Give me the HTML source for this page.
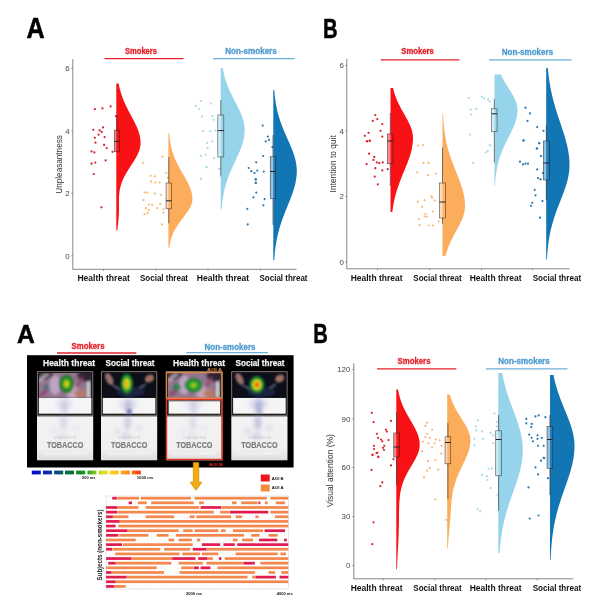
<!DOCTYPE html>
<html lang="en"><head><meta charset="utf-8"><title>Figure</title>
<style>html,body{margin:0;padding:0;background:#fff}svg{display:block;filter:blur(0.45px)}</style></head>
<body>
<svg width="602" height="614" viewBox="0 0 602 614" font-family='"Liberation Sans", sans-serif'>
<rect width="602" height="614" fill="#fff"/>
<g id="tl">
<text x="35.70" y="38.00" font-size="29" fill="#000" text-anchor="middle" font-weight="bold" textLength="18.20" lengthAdjust="spacingAndGlyphs" stroke="#000" stroke-width="0.5">A</text>
<line x1="72.8" y1="59" x2="72.8" y2="269.3" stroke="#555" stroke-width="0.7"/>
<line x1="72.8" y1="269.3" x2="296.5" y2="269.3" stroke="#555" stroke-width="0.7"/>
<line x1="71.3" y1="68.6" x2="72.8" y2="68.6" stroke="#555" stroke-width="0.6"/>
<text x="69.60" y="71.40" font-size="7.9" fill="#454545" text-anchor="end">6</text>
<line x1="71.3" y1="131" x2="72.8" y2="131" stroke="#555" stroke-width="0.6"/>
<text x="69.60" y="133.80" font-size="7.9" fill="#454545" text-anchor="end">4</text>
<line x1="71.3" y1="193.3" x2="72.8" y2="193.3" stroke="#555" stroke-width="0.6"/>
<text x="69.60" y="196.10" font-size="7.9" fill="#454545" text-anchor="end">2</text>
<line x1="71.3" y1="255.7" x2="72.8" y2="255.7" stroke="#555" stroke-width="0.6"/>
<text x="69.60" y="258.50" font-size="7.9" fill="#454545" text-anchor="end">0</text>
<line x1="103.5" y1="269.3" x2="103.5" y2="270.8" stroke="#555" stroke-width="0.6"/>
<line x1="155.8" y1="269.3" x2="155.8" y2="270.8" stroke="#555" stroke-width="0.6"/>
<line x1="208" y1="269.3" x2="208" y2="270.8" stroke="#555" stroke-width="0.6"/>
<line x1="260.5" y1="269.3" x2="260.5" y2="270.8" stroke="#555" stroke-width="0.6"/>
<text x="62.30" y="164.40" font-size="8.3" fill="#333" text-anchor="middle" textLength="58.50" lengthAdjust="spacingAndGlyphs" transform="rotate(-90 62.30 164.40)">Unpleasantness</text>
<text x="141.00" y="54.00" font-size="8.4" fill="#e5222b" text-anchor="middle" font-weight="bold" textLength="32.00" lengthAdjust="spacingAndGlyphs" stroke="#e5222b" stroke-width="0.3">Smokers</text>
<line x1="104.5" y1="58.6" x2="183.5" y2="58.6" stroke="#e5222b" stroke-width="1.35"/>
<text x="251.00" y="54.00" font-size="8.4" fill="#4f9bd0" text-anchor="middle" font-weight="bold" textLength="51.50" lengthAdjust="spacingAndGlyphs" stroke="#4f9bd0" stroke-width="0.3">Non-smokers</text>
<line x1="213" y1="58.6" x2="294.5" y2="58.6" stroke="#6cb0da" stroke-width="1.35"/>
<path d="M116.30,83.50L118.64,83.50L119.13,85.95L119.69,88.40L120.32,90.85L121.05,93.30L121.85,95.75L122.75,98.20L123.72,100.65L124.78,103.10L125.91,105.55L127.11,108.00L128.36,110.45L129.65,112.90L130.96,115.35L132.27,117.80L133.56,120.25L134.80,122.70L135.98,125.15L137.07,127.60L138.05,130.05L138.89,132.50L139.58,134.95L140.10,137.40L140.44,139.85L140.59,142.30L140.53,144.75L140.18,147.20L139.56,149.65L138.69,152.10L137.60,154.55L136.32,157.00L134.90,159.45L133.38,161.90L131.80,164.35L130.20,166.80L128.63,169.25L127.11,171.70L125.68,174.15L124.37,176.60L123.18,179.05L122.14,181.50L121.26,183.95L120.53,186.40L119.96,188.85L119.53,191.30L119.24,193.75L119.05,196.20L118.96,198.65L118.94,201.10L118.95,203.55L118.97,206.00L118.98,208.45L118.95,210.90L118.87,213.35L118.74,215.80L118.56,218.25L118.34,220.70L118.09,223.15L117.83,225.60L117.56,228.05L117.32,230.50L116.30,230.50Z" fill="#f81216"/>
<path d="M168.40,133.00L169.14,133.00L169.30,134.91L169.49,136.83L169.71,138.74L169.98,140.65L170.28,142.57L170.63,144.48L171.02,146.39L171.47,148.31L171.98,150.22L172.54,152.13L173.17,154.05L173.85,155.96L174.60,157.87L175.41,159.79L176.29,161.70L177.21,163.61L178.19,165.53L179.22,167.44L180.28,169.35L181.37,171.27L182.48,173.18L183.59,175.09L184.70,177.01L185.78,178.92L186.83,180.83L187.83,182.75L188.76,184.66L189.61,186.57L190.37,188.49L191.02,190.40L191.56,192.31L191.97,194.23L192.24,196.14L192.38,198.05L192.37,199.97L192.13,201.88L191.65,203.79L190.95,205.71L190.05,207.62L188.98,209.53L187.77,211.45L186.44,213.36L185.03,215.27L183.58,217.19L182.11,219.10L180.67,221.01L179.26,222.93L177.92,224.84L176.66,226.75L175.49,228.67L174.43,230.58L173.47,232.49L172.63,234.41L171.89,236.32L171.25,238.23L170.70,240.15L170.24,242.06L169.86,243.97L169.54,245.89L169.29,247.80L168.40,247.80Z" fill="#fcad5c"/>
<path d="M220.70,68.00L222.77,68.00L223.18,70.35L223.66,72.70L224.20,75.05L224.81,77.40L225.50,79.75L226.26,82.10L227.09,84.45L228.00,86.80L228.98,89.15L230.03,91.50L231.13,93.85L232.28,96.20L233.47,98.55L234.69,100.90L235.91,103.25L237.12,105.60L238.30,107.95L239.44,110.30L240.51,112.65L241.49,115.00L242.37,117.35L243.13,119.70L243.75,122.05L244.22,124.40L244.54,126.75L244.69,129.10L244.67,131.45L244.52,133.80L244.23,136.15L243.81,138.50L243.27,140.85L242.62,143.20L241.86,145.55L241.01,147.90L240.09,150.25L239.10,152.60L238.06,154.95L236.99,157.30L235.89,159.65L234.79,162.00L233.69,164.35L232.61,166.70L231.56,169.05L230.54,171.40L229.57,173.75L228.64,176.10L227.78,178.45L226.97,180.80L226.22,183.15L225.53,185.50L224.91,187.85L224.34,190.20L223.83,192.55L223.38,194.90L222.98,197.25L222.63,199.60L222.32,201.95L222.06,204.30L221.83,206.65L221.63,209.00L220.70,209.00Z" fill="#95d4ea"/>
<path d="M273.30,90.00L274.25,90.00L274.49,92.83L274.77,95.67L275.10,98.50L275.50,101.33L275.95,104.17L276.48,107.00L277.08,109.83L277.76,112.67L278.52,115.50L279.37,118.33L280.29,121.17L281.29,124.00L282.37,126.83L283.50,129.67L284.70,132.50L285.93,135.33L287.18,138.17L288.44,141.00L289.69,143.83L290.90,146.67L292.05,149.50L293.12,152.33L294.09,155.17L294.94,158.00L295.64,160.83L296.19,163.67L296.57,166.50L296.77,169.33L296.79,172.17L296.65,175.00L296.36,177.83L295.92,180.67L295.35,183.50L294.65,186.33L293.84,189.17L292.93,192.00L291.94,194.83L290.88,197.67L289.77,200.50L288.64,203.33L287.49,206.17L286.33,209.00L285.20,211.83L284.09,214.67L283.02,217.50L282.00,220.33L281.04,223.17L280.14,226.00L279.30,228.83L278.53,231.67L277.83,234.50L277.20,237.33L276.63,240.17L276.13,243.00L275.69,245.83L275.30,248.67L274.97,251.50L274.68,254.33L274.43,257.17L274.23,260.00L273.30,260.00Z" fill="#1275b4"/>
<g fill="#d8232a"><circle cx="94.8" cy="109.2" r="1.1"/><circle cx="102.4" cy="108.4" r="1.1"/><circle cx="110.6" cy="106.4" r="1.1"/><circle cx="116.0" cy="116.2" r="1.1"/><circle cx="93.3" cy="129.8" r="1.1"/><circle cx="99.6" cy="130.4" r="1.1"/><circle cx="103.0" cy="127.4" r="1.1"/><circle cx="101.7" cy="131.9" r="1.1"/><circle cx="98.5" cy="134.7" r="1.1"/><circle cx="104.6" cy="137.1" r="1.1"/><circle cx="94.8" cy="137.8" r="1.1"/><circle cx="95.5" cy="142.7" r="1.1"/><circle cx="104.1" cy="144.9" r="1.1"/><circle cx="106.7" cy="148.1" r="1.1"/><circle cx="91.6" cy="151.4" r="1.1"/><circle cx="94.4" cy="152.4" r="1.1"/><circle cx="112.5" cy="151.8" r="1.1"/><circle cx="105.6" cy="160.4" r="1.1"/><circle cx="91.6" cy="163.7" r="1.1"/><circle cx="95.3" cy="162.6" r="1.1"/><circle cx="93.8" cy="174.0" r="1.1"/></g>
<g fill="#d8232a"><circle cx="101.4" cy="207.3" r="1.1"/></g>
<g fill="#fbb873"><circle cx="162.4" cy="156.6" r="1.1"/><circle cx="143.0" cy="162.8" r="1.1"/><circle cx="166.3" cy="173.2" r="1.1"/><circle cx="150.5" cy="175.8" r="1.1"/><circle cx="154.8" cy="176.4" r="1.1"/><circle cx="151.0" cy="181.4" r="1.1"/><circle cx="155.3" cy="182.5" r="1.1"/><circle cx="159.6" cy="182.5" r="1.1"/><circle cx="167.8" cy="177.9" r="1.1"/><circle cx="144.7" cy="192.6" r="1.1"/><circle cx="147.3" cy="192.6" r="1.1"/><circle cx="154.8" cy="193.7" r="1.1"/><circle cx="160.9" cy="194.8" r="1.1"/><circle cx="143.4" cy="200.2" r="1.1"/><circle cx="149.0" cy="204.5" r="1.1"/><circle cx="152.2" cy="204.9" r="1.1"/><circle cx="160.2" cy="204.1" r="1.1"/><circle cx="145.8" cy="208.2" r="1.1"/><circle cx="148.8" cy="209.9" r="1.1"/><circle cx="157.0" cy="208.2" r="1.1"/><circle cx="163.5" cy="209.3" r="1.1"/><circle cx="144.5" cy="214.2" r="1.1"/><circle cx="147.7" cy="213.2" r="1.1"/><circle cx="163.5" cy="212.7" r="1.1"/><circle cx="162.0" cy="224.4" r="1.1"/></g>
<g fill="#a9dbe9"><circle cx="201.0" cy="101.0" r="1.1"/><circle cx="195.8" cy="105.8" r="1.1"/><circle cx="210.9" cy="103.6" r="1.1"/><circle cx="199.4" cy="109.0" r="1.1"/><circle cx="202.2" cy="116.6" r="1.1"/><circle cx="212.4" cy="116.1" r="1.1"/><circle cx="213.5" cy="119.8" r="1.1"/><circle cx="203.3" cy="131.2" r="1.1"/><circle cx="210.2" cy="131.2" r="1.1"/><circle cx="215.6" cy="130.6" r="1.1"/><circle cx="212.4" cy="141.4" r="1.1"/><circle cx="207.0" cy="142.9" r="1.1"/><circle cx="207.6" cy="147.9" r="1.1"/><circle cx="201.0" cy="156.1" r="1.1"/><circle cx="205.9" cy="154.8" r="1.1"/><circle cx="214.1" cy="158.2" r="1.1"/><circle cx="206.3" cy="166.9" r="1.1"/><circle cx="219.5" cy="168.8" r="1.1"/><circle cx="201.0" cy="178.8" r="1.1"/></g>
<g fill="#a9dbe9"><circle cx="206.7" cy="167.1" r="1.1"/><circle cx="219.2" cy="168.9" r="1.1"/><circle cx="200.8" cy="178.6" r="1.1"/></g>
<g fill="#2a78b0"><circle cx="262.7" cy="125.6" r="1.1"/><circle cx="267.9" cy="136.6" r="1.1"/><circle cx="265.7" cy="141.4" r="1.1"/><circle cx="269.0" cy="139.9" r="1.1"/><circle cx="272.4" cy="147.2" r="1.1"/><circle cx="263.2" cy="156.1" r="1.1"/><circle cx="256.2" cy="162.3" r="1.1"/><circle cx="248.7" cy="168.0" r="1.1"/><circle cx="251.3" cy="171.2" r="1.1"/><circle cx="254.5" cy="173.1" r="1.1"/><circle cx="257.3" cy="170.6" r="1.1"/><circle cx="263.8" cy="171.6" r="1.1"/><circle cx="255.6" cy="179.2" r="1.1"/><circle cx="255.6" cy="182.9" r="1.1"/></g>
<g fill="#2a78b0"><circle cx="255.9" cy="179.7" r="1.1"/><circle cx="255.9" cy="182.9" r="1.1"/><circle cx="256.3" cy="192.6" r="1.1"/><circle cx="253.5" cy="197.4" r="1.1"/><circle cx="247.3" cy="208.8" r="1.1"/><circle cx="247.7" cy="224.4" r="1.1"/></g>
<g fill="#2a78b0"><circle cx="264.6" cy="199.1" r="1.1"/><circle cx="263.4" cy="205.3" r="1.1"/></g>
<line x1="116.80" y1="115.00" x2="116.80" y2="130.20" stroke="#222" stroke-width="0.6"/>
<line x1="116.80" y1="151.80" x2="116.80" y2="152.00" stroke="#222" stroke-width="0.6"/>
<rect x="114.30" y="130.20" width="5.00" height="21.60" fill="#f81216" fill-opacity="0.5" stroke="#222" stroke-opacity="0.8" stroke-width="0.6"/>
<line x1="114.30" y1="141.40" x2="119.30" y2="141.40" stroke="#222" stroke-width="1"/>
<line x1="168.80" y1="157.00" x2="168.80" y2="183.00" stroke="#222" stroke-width="0.6"/>
<line x1="168.80" y1="208.80" x2="168.80" y2="223.30" stroke="#222" stroke-width="0.6"/>
<rect x="166.05" y="183.00" width="5.50" height="25.80" fill="#fdb872" fill-opacity="0.5" stroke="#222" stroke-opacity="0.8" stroke-width="0.6"/>
<line x1="166.05" y1="200.80" x2="171.55" y2="200.80" stroke="#222" stroke-width="1"/>
<line x1="220.80" y1="100.00" x2="220.80" y2="115.00" stroke="#222" stroke-width="0.6"/>
<line x1="220.80" y1="157.00" x2="220.80" y2="176.40" stroke="#222" stroke-width="0.6"/>
<rect x="217.80" y="115.00" width="6.00" height="42.00" fill="#a8dcee" fill-opacity="0.5" stroke="#222" stroke-opacity="0.8" stroke-width="0.6"/>
<line x1="217.80" y1="130.60" x2="223.80" y2="130.60" stroke="#222" stroke-width="1"/>
<line x1="273.00" y1="135.00" x2="273.00" y2="156.70" stroke="#222" stroke-width="0.6"/>
<line x1="273.00" y1="198.30" x2="273.00" y2="225.00" stroke="#222" stroke-width="0.6"/>
<rect x="270.25" y="156.70" width="5.50" height="41.60" fill="#2a86c2" fill-opacity="0.5" stroke="#222" stroke-opacity="0.8" stroke-width="0.6"/>
<line x1="270.25" y1="171.50" x2="275.75" y2="171.50" stroke="#222" stroke-width="1"/>
<text x="103.60" y="281.00" font-size="8.3" fill="#111" text-anchor="middle" font-weight="bold" textLength="52.40" lengthAdjust="spacingAndGlyphs">Health threat</text>
<text x="164.00" y="281.00" font-size="8.3" fill="#111" text-anchor="middle" font-weight="bold" textLength="48.00" lengthAdjust="spacingAndGlyphs">Social threat</text>
<text x="223.00" y="281.00" font-size="8.3" fill="#111" text-anchor="middle" font-weight="bold" textLength="52.40" lengthAdjust="spacingAndGlyphs">Health threat</text>
<text x="283.50" y="281.00" font-size="8.3" fill="#111" text-anchor="middle" font-weight="bold" textLength="48.00" lengthAdjust="spacingAndGlyphs">Social threat</text>
</g>
<g id="tr">
<text x="330.40" y="38.00" font-size="28.3" fill="#000" text-anchor="middle" font-weight="bold" textLength="14.60" lengthAdjust="spacingAndGlyphs" stroke="#000" stroke-width="0.5">B</text>
<line x1="346.8" y1="58.7" x2="346.8" y2="268.8" stroke="#555" stroke-width="0.7"/>
<line x1="346.8" y1="268.8" x2="569.5" y2="268.8" stroke="#555" stroke-width="0.7"/>
<line x1="345.3" y1="65.5" x2="346.8" y2="65.5" stroke="#555" stroke-width="0.6"/>
<text x="344.00" y="68.30" font-size="7.9" fill="#454545" text-anchor="end">6</text>
<line x1="345.3" y1="131" x2="346.8" y2="131" stroke="#555" stroke-width="0.6"/>
<text x="344.00" y="133.80" font-size="7.9" fill="#454545" text-anchor="end">4</text>
<line x1="345.3" y1="196.4" x2="346.8" y2="196.4" stroke="#555" stroke-width="0.6"/>
<text x="344.00" y="199.20" font-size="7.9" fill="#454545" text-anchor="end">2</text>
<line x1="345.3" y1="262" x2="346.8" y2="262" stroke="#555" stroke-width="0.6"/>
<text x="344.00" y="264.80" font-size="7.9" fill="#454545" text-anchor="end">0</text>
<line x1="377.5" y1="268.8" x2="377.5" y2="270.3" stroke="#555" stroke-width="0.6"/>
<line x1="429.5" y1="268.8" x2="429.5" y2="270.3" stroke="#555" stroke-width="0.6"/>
<line x1="481.5" y1="268.8" x2="481.5" y2="270.3" stroke="#555" stroke-width="0.6"/>
<line x1="532.5" y1="268.8" x2="532.5" y2="270.3" stroke="#555" stroke-width="0.6"/>
<text x="335.80" y="163.80" font-size="8.3" fill="#333" text-anchor="middle" textLength="57.20" lengthAdjust="spacingAndGlyphs" transform="rotate(-90 335.80 163.80)">Intention to quit</text>
<text x="417.50" y="54.30" font-size="8.4" fill="#e5222b" text-anchor="middle" font-weight="bold" textLength="32.50" lengthAdjust="spacingAndGlyphs" stroke="#e5222b" stroke-width="0.3">Smokers</text>
<line x1="380.8" y1="59.8" x2="459.5" y2="59.8" stroke="#e5222b" stroke-width="1.35"/>
<text x="527.40" y="55.20" font-size="8.4" fill="#4f9bd0" text-anchor="middle" font-weight="bold" textLength="51.50" lengthAdjust="spacingAndGlyphs" stroke="#4f9bd0" stroke-width="0.3">Non-smokers</text>
<line x1="489" y1="59.8" x2="571.3" y2="59.8" stroke="#6cb0da" stroke-width="1.35"/>
<path d="M390.50,88.00L393.07,88.00L393.56,90.07L394.12,92.13L394.76,94.20L395.46,96.27L396.24,98.33L397.09,100.40L398.02,102.47L399.01,104.53L400.06,106.60L401.16,108.67L402.30,110.73L403.47,112.80L404.64,114.87L405.81,116.93L406.95,119.00L408.04,121.07L409.07,123.13L410.02,125.20L410.86,127.27L411.58,129.33L412.17,131.40L412.60,133.47L412.88,135.53L413.00,137.60L412.97,139.67L412.86,141.73L412.66,143.80L412.37,145.87L412.00,147.93L411.56,150.00L411.05,152.07L410.47,154.13L409.83,156.20L409.13,158.27L408.39,160.33L407.62,162.40L406.81,164.47L405.98,166.53L405.14,168.60L404.28,170.67L403.43,172.73L402.58,174.80L401.75,176.87L400.93,178.93L400.13,181.00L399.36,183.07L398.61,185.13L397.90,187.20L397.23,189.27L396.60,191.33L396.00,193.40L395.44,195.47L394.92,197.53L394.44,199.60L394.00,201.67L393.59,203.73L393.23,205.80L392.89,207.87L392.59,209.93L392.32,212.00L390.50,212.00Z" fill="#f81216"/>
<path d="M442.50,114.00L443.08,114.00L443.20,116.37L443.33,118.73L443.50,121.10L443.68,123.47L443.90,125.83L444.14,128.20L444.42,130.57L444.74,132.93L445.09,135.30L445.49,137.67L445.93,140.03L446.41,142.40L446.94,144.77L447.53,147.13L448.16,149.50L448.83,151.87L449.56,154.23L450.33,156.60L451.14,158.97L451.99,161.33L452.88,163.70L453.79,166.07L454.72,168.43L455.67,170.80L456.62,173.17L457.56,175.53L458.49,177.90L459.40,180.27L460.27,182.63L461.09,185.00L461.86,187.37L462.57,189.73L463.20,192.10L463.74,194.47L464.20,196.83L464.55,199.20L464.81,201.57L464.96,203.93L465.00,206.30L464.87,208.67L464.55,211.03L464.04,213.40L463.35,215.77L462.50,218.13L461.52,220.50L460.42,222.87L459.24,225.23L457.99,227.60L456.71,229.97L455.42,232.33L454.14,234.70L452.90,237.07L451.70,239.43L450.57,241.80L449.52,244.17L448.54,246.53L447.66,248.90L446.87,251.27L446.16,253.63L445.55,256.00L442.50,256.00Z" fill="#fcad5c"/>
<path d="M494.50,74.50L500.76,74.50L501.64,76.36L502.60,78.22L503.62,80.08L504.69,81.93L505.81,83.79L506.97,85.65L508.14,87.51L509.32,89.37L510.48,91.22L511.61,93.08L512.70,94.94L513.71,96.80L514.64,98.66L515.46,100.52L516.16,102.38L516.72,104.23L517.14,106.09L517.40,107.95L517.50,109.81L517.46,111.67L517.31,113.53L517.06,115.38L516.72,117.24L516.27,119.10L515.74,120.96L515.13,122.82L514.45,124.67L513.70,126.53L512.89,128.39L512.04,130.25L511.15,132.11L510.23,133.97L509.30,135.82L508.36,137.68L507.42,139.54L506.48,141.40L505.57,143.26L504.68,145.12L503.81,146.97L502.99,148.83L502.20,150.69L501.45,152.55L500.74,154.41L500.09,156.27L499.47,158.12L498.91,159.98L498.39,161.84L497.92,163.70L497.49,165.56L497.10,167.42L496.75,169.28L496.44,171.13L496.17,172.99L495.93,174.85L495.71,176.71L495.53,178.57L495.37,180.43L495.23,182.28L495.11,184.14L495.00,186.00L494.50,186.00Z" fill="#95d4ea"/>
<path d="M546.20,68.00L547.82,68.00L548.12,71.19L548.47,74.38L548.87,77.58L549.32,80.77L549.82,83.96L550.38,87.15L551.00,90.34L551.68,93.53L552.42,96.72L553.21,99.92L554.07,103.11L554.97,106.30L555.93,109.49L556.93,112.68L557.96,115.88L559.01,119.07L560.08,122.26L561.16,125.45L562.22,128.64L563.26,131.83L564.26,135.03L565.21,138.22L566.10,141.41L566.91,144.60L567.62,147.79L568.24,150.98L568.74,154.18L569.12,157.37L569.37,160.56L569.49,163.75L569.47,166.94L569.26,170.13L568.89,173.32L568.34,176.52L567.63,179.71L566.79,182.90L565.83,186.09L564.76,189.28L563.61,192.47L562.41,195.67L561.17,198.86L559.92,202.05L558.67,205.24L557.45,208.43L556.27,211.62L555.14,214.82L554.08,218.01L553.09,221.20L552.18,224.39L551.34,227.58L550.59,230.78L549.92,233.97L549.33,237.16L548.81,240.35L548.36,243.54L547.97,246.73L547.64,249.93L547.37,253.12L547.13,256.31L546.94,259.50L546.20,259.50Z" fill="#1275b4"/>
<g fill="#d8232a"><circle cx="375.3" cy="115.1" r="1.1"/><circle cx="372.8" cy="120.9" r="1.1"/><circle cx="377.3" cy="119.1" r="1.1"/><circle cx="382.3" cy="124.1" r="1.1"/><circle cx="364.8" cy="135.8" r="1.1"/><circle cx="368.6" cy="132.8" r="1.1"/><circle cx="367.3" cy="141.3" r="1.1"/><circle cx="369.8" cy="140.8" r="1.1"/><circle cx="380.5" cy="130.8" r="1.1"/><circle cx="382.3" cy="136.6" r="1.1"/></g>
<g fill="#d8232a"><circle cx="366.8" cy="141.2" r="1.1"/><circle cx="369.8" cy="140.7" r="1.1"/><circle cx="369.1" cy="153.7" r="1.1"/><circle cx="374.3" cy="156.9" r="1.1"/><circle cx="373.5" cy="159.9" r="1.1"/><circle cx="376.8" cy="162.4" r="1.1"/><circle cx="379.3" cy="163.2" r="1.1"/><circle cx="382.8" cy="162.4" r="1.1"/><circle cx="366.6" cy="164.2" r="1.1"/><circle cx="375.3" cy="168.2" r="1.1"/><circle cx="382.3" cy="170.4" r="1.1"/><circle cx="387.7" cy="169.2" r="1.1"/><circle cx="374.8" cy="176.6" r="1.1"/><circle cx="377.8" cy="184.4" r="1.1"/></g>
<g fill="#fbb873"><circle cx="417.9" cy="145.5" r="1.1"/><circle cx="422.9" cy="145.0" r="1.1"/><circle cx="423.4" cy="162.9" r="1.1"/><circle cx="428.4" cy="162.9" r="1.1"/><circle cx="417.2" cy="172.4" r="1.1"/><circle cx="427.9" cy="174.9" r="1.1"/><circle cx="435.8" cy="173.6" r="1.1"/><circle cx="417.9" cy="201.8" r="1.1"/><circle cx="422.1" cy="206.8" r="1.1"/><circle cx="424.6" cy="200.3" r="1.1"/><circle cx="431.4" cy="196.1" r="1.1"/><circle cx="432.1" cy="197.8" r="1.1"/><circle cx="434.6" cy="200.6" r="1.1"/><circle cx="432.9" cy="211.5" r="1.1"/><circle cx="425.4" cy="214.0" r="1.1"/><circle cx="424.6" cy="216.5" r="1.1"/><circle cx="427.1" cy="216.5" r="1.1"/><circle cx="418.9" cy="219.0" r="1.1"/><circle cx="419.6" cy="225.2" r="1.1"/><circle cx="428.9" cy="225.5" r="1.1"/><circle cx="432.9" cy="225.5" r="1.1"/><circle cx="438.8" cy="221.5" r="1.1"/></g>
<g fill="#a9dbe9"><circle cx="468.9" cy="97.9" r="1.1"/><circle cx="481.9" cy="96.7" r="1.1"/><circle cx="484.4" cy="98.4" r="1.1"/><circle cx="488.1" cy="99.7" r="1.1"/><circle cx="489.9" cy="101.7" r="1.1"/><circle cx="470.7" cy="109.6" r="1.1"/><circle cx="476.4" cy="108.9" r="1.1"/><circle cx="471.2" cy="114.6" r="1.1"/><circle cx="469.9" cy="134.6" r="1.1"/><circle cx="489.9" cy="145.3" r="1.1"/></g>
<g fill="#a9dbe9"><circle cx="489.9" cy="145.5" r="1.1"/><circle cx="485.6" cy="152.5" r="1.1"/><circle cx="487.6" cy="151.2" r="1.1"/><circle cx="473.2" cy="162.9" r="1.1"/></g>
<g fill="#2a78b0"><circle cx="525.5" cy="107.7" r="1.1"/><circle cx="530.0" cy="113.4" r="1.1"/><circle cx="527.5" cy="120.9" r="1.1"/><circle cx="537.2" cy="127.1" r="1.1"/><circle cx="543.5" cy="130.8" r="1.1"/><circle cx="523.5" cy="140.3" r="1.1"/><circle cx="539.2" cy="143.3" r="1.1"/><circle cx="537.2" cy="148.3" r="1.1"/></g>
<g fill="#2a78b0"><circle cx="523.5" cy="140.7" r="1.1"/><circle cx="539.2" cy="143.2" r="1.1"/><circle cx="536.7" cy="148.7" r="1.1"/><circle cx="541.0" cy="156.2" r="1.1"/><circle cx="520.0" cy="161.7" r="1.1"/><circle cx="523.0" cy="164.4" r="1.1"/><circle cx="525.5" cy="163.7" r="1.1"/><circle cx="528.0" cy="163.7" r="1.1"/><circle cx="537.2" cy="169.4" r="1.1"/><circle cx="543.0" cy="173.1" r="1.1"/><circle cx="538.0" cy="178.1" r="1.1"/><circle cx="540.5" cy="179.4" r="1.1"/><circle cx="534.7" cy="189.8" r="1.1"/><circle cx="535.5" cy="195.3" r="1.1"/><circle cx="542.5" cy="201.1" r="1.1"/><circle cx="532.2" cy="202.8" r="1.1"/><circle cx="531.0" cy="206.0" r="1.1"/><circle cx="540.0" cy="217.7" r="1.1"/></g>
<line x1="390.30" y1="113.00" x2="390.30" y2="134.00" stroke="#222" stroke-width="0.6"/>
<line x1="390.30" y1="163.80" x2="390.30" y2="186.00" stroke="#222" stroke-width="0.6"/>
<rect x="387.55" y="134.00" width="5.50" height="29.80" fill="#f81216" fill-opacity="0.5" stroke="#222" stroke-opacity="0.8" stroke-width="0.6"/>
<line x1="387.55" y1="141.00" x2="393.05" y2="141.00" stroke="#222" stroke-width="1"/>
<line x1="442.50" y1="147.50" x2="442.50" y2="183.00" stroke="#222" stroke-width="0.6"/>
<line x1="442.50" y1="218.00" x2="442.50" y2="223.80" stroke="#222" stroke-width="0.6"/>
<rect x="439.50" y="183.00" width="6.00" height="35.00" fill="#fdb872" fill-opacity="0.5" stroke="#222" stroke-opacity="0.8" stroke-width="0.6"/>
<line x1="439.50" y1="202.00" x2="445.50" y2="202.00" stroke="#222" stroke-width="1"/>
<line x1="494.30" y1="98.80" x2="494.30" y2="108.80" stroke="#222" stroke-width="0.6"/>
<line x1="494.30" y1="131.30" x2="494.30" y2="162.50" stroke="#222" stroke-width="0.6"/>
<rect x="491.55" y="108.80" width="5.50" height="22.50" fill="#a8dcee" fill-opacity="0.5" stroke="#222" stroke-opacity="0.8" stroke-width="0.6"/>
<line x1="491.55" y1="113.80" x2="497.05" y2="113.80" stroke="#222" stroke-width="1"/>
<line x1="546.30" y1="125.00" x2="546.30" y2="141.00" stroke="#222" stroke-width="0.6"/>
<line x1="546.30" y1="180.00" x2="546.30" y2="200.00" stroke="#222" stroke-width="0.6"/>
<rect x="543.30" y="141.00" width="6.00" height="39.00" fill="#2a86c2" fill-opacity="0.5" stroke="#222" stroke-opacity="0.8" stroke-width="0.6"/>
<line x1="543.30" y1="163.00" x2="549.30" y2="163.00" stroke="#222" stroke-width="1"/>
<text x="376.60" y="281.00" font-size="8.3" fill="#111" text-anchor="middle" font-weight="bold" textLength="51.80" lengthAdjust="spacingAndGlyphs">Health threat</text>
<text x="437.50" y="281.00" font-size="8.3" fill="#111" text-anchor="middle" font-weight="bold" textLength="48.50" lengthAdjust="spacingAndGlyphs">Social threat</text>
<text x="495.60" y="281.00" font-size="8.3" fill="#111" text-anchor="middle" font-weight="bold" textLength="51.80" lengthAdjust="spacingAndGlyphs">Health threat</text>
<text x="556.90" y="281.00" font-size="8.3" fill="#111" text-anchor="middle" font-weight="bold" textLength="48.50" lengthAdjust="spacingAndGlyphs">Social threat</text>
</g>
<g id="br">
<text x="320.50" y="343.00" font-size="27.5" fill="#000" text-anchor="middle" font-weight="bold" textLength="14.60" lengthAdjust="spacingAndGlyphs" stroke="#000" stroke-width="0.5">B</text>
<line x1="353.8" y1="363.3" x2="353.8" y2="578.8" stroke="#555" stroke-width="0.7"/>
<line x1="353.8" y1="578.8" x2="573.3" y2="578.8" stroke="#555" stroke-width="0.7"/>
<line x1="352.3" y1="369.5" x2="353.8" y2="369.5" stroke="#555" stroke-width="0.6"/>
<text x="350.30" y="372.30" font-size="7.9" fill="#454545" text-anchor="end">120</text>
<line x1="352.3" y1="418.8" x2="353.8" y2="418.8" stroke="#555" stroke-width="0.6"/>
<text x="350.30" y="421.60" font-size="7.9" fill="#454545" text-anchor="end">90</text>
<line x1="352.3" y1="467.5" x2="353.8" y2="467.5" stroke="#555" stroke-width="0.6"/>
<text x="350.30" y="470.30" font-size="7.9" fill="#454545" text-anchor="end">60</text>
<line x1="352.3" y1="516.5" x2="353.8" y2="516.5" stroke="#555" stroke-width="0.6"/>
<text x="350.30" y="519.30" font-size="7.9" fill="#454545" text-anchor="end">30</text>
<line x1="352.3" y1="565.5" x2="353.8" y2="565.5" stroke="#555" stroke-width="0.6"/>
<text x="350.30" y="568.30" font-size="7.9" fill="#454545" text-anchor="end">0</text>
<line x1="383.3" y1="578.8" x2="383.3" y2="580.3" stroke="#555" stroke-width="0.6"/>
<line x1="435" y1="578.8" x2="435" y2="580.3" stroke="#555" stroke-width="0.6"/>
<line x1="485.8" y1="578.8" x2="485.8" y2="580.3" stroke="#555" stroke-width="0.6"/>
<line x1="537" y1="578.8" x2="537" y2="580.3" stroke="#555" stroke-width="0.6"/>
<text x="333.20" y="470.70" font-size="8.3" fill="#333" text-anchor="middle" textLength="73.30" lengthAdjust="spacingAndGlyphs" transform="rotate(-90 333.20 470.70)">Visual attention (%)</text>
<text x="414.00" y="363.50" font-size="8.4" fill="#e5222b" text-anchor="middle" font-weight="bold" textLength="33.00" lengthAdjust="spacingAndGlyphs" stroke="#e5222b" stroke-width="0.3">Smokers</text>
<line x1="377" y1="368.8" x2="456.3" y2="368.8" stroke="#e5222b" stroke-width="1.35"/>
<text x="524.00" y="363.50" font-size="8.4" fill="#4f9bd0" text-anchor="middle" font-weight="bold" textLength="51.50" lengthAdjust="spacingAndGlyphs" stroke="#4f9bd0" stroke-width="0.3">Non-smokers</text>
<line x1="485.8" y1="368.8" x2="567.5" y2="368.8" stroke="#6cb0da" stroke-width="1.35"/>
<path d="M396.30,389.50L398.06,389.50L398.62,392.50L399.30,395.49L400.14,398.49L401.12,401.49L402.27,404.48L403.58,407.48L405.03,410.48L406.62,413.47L408.30,416.47L410.05,419.47L411.81,422.46L413.53,425.46L415.14,428.46L416.59,431.45L417.81,434.45L418.77,437.45L419.41,440.44L419.71,443.44L419.64,446.44L419.16,449.43L418.30,452.43L417.10,455.43L415.65,458.42L414.00,461.42L412.24,464.42L410.45,467.41L408.69,470.41L407.03,473.41L405.51,476.40L404.16,479.40L402.99,482.40L402.01,485.39L401.21,488.39L400.57,491.39L400.09,494.38L399.73,497.38L399.47,500.38L399.29,503.37L399.17,506.37L399.09,509.37L399.04,512.36L399.00,515.36L398.97,518.36L398.94,521.35L398.90,524.35L398.84,527.35L398.76,530.34L398.66,533.34L398.55,536.34L398.41,539.33L398.27,542.33L398.12,545.33L397.97,548.32L397.81,551.32L397.65,554.32L397.50,557.31L397.35,560.31L397.22,563.31L397.09,566.30L396.97,569.30L396.30,569.30Z" fill="#f81216"/>
<path d="M447.20,394.50L449.91,394.50L450.63,397.06L451.47,399.63L452.46,402.19L453.58,404.75L454.84,407.32L456.22,409.88L457.71,412.44L459.28,415.01L460.90,417.57L462.53,420.13L464.12,422.70L465.63,425.26L467.00,427.82L468.19,430.39L469.16,432.95L469.86,435.51L470.28,438.08L470.40,440.64L470.28,443.20L469.94,445.77L469.41,448.33L468.70,450.89L467.82,453.46L466.82,456.02L465.71,458.58L464.52,461.15L463.29,463.71L462.04,466.27L460.80,468.84L459.60,471.40L458.46,473.96L457.38,476.53L456.39,479.09L455.49,481.65L454.69,484.22L453.98,486.78L453.37,489.34L452.84,491.91L452.39,494.47L452.01,497.03L451.69,499.60L451.42,502.16L451.19,504.72L451.00,507.29L450.82,509.85L450.66,512.41L450.48,514.98L450.30,517.54L450.10,520.10L449.89,522.67L449.67,525.23L449.44,527.79L449.21,530.36L448.98,532.92L448.76,535.48L448.55,538.05L448.35,540.61L448.17,543.17L448.01,545.74L447.86,548.30L447.20,548.30Z" fill="#fcad5c"/>
<path d="M498.30,373.00L502.14,373.00L502.73,376.00L503.37,379.00L504.08,382.00L504.84,385.00L505.67,388.00L506.56,391.00L507.50,394.00L508.48,397.00L509.52,400.00L510.58,403.00L511.68,406.00L512.79,409.00L513.90,412.00L515.01,415.00L516.09,418.00L517.14,421.00L518.13,424.00L519.07,427.00L519.92,430.00L520.68,433.00L521.34,436.00L521.89,439.00L522.31,442.00L522.61,445.00L522.77,448.00L522.79,451.00L522.69,454.00L522.46,457.00L522.12,460.00L521.65,463.00L521.09,466.00L520.42,469.00L519.66,472.00L518.82,475.00L517.92,478.00L516.96,481.00L515.95,484.00L514.92,487.00L513.87,490.00L512.81,493.00L511.75,496.00L510.71,499.00L509.68,502.00L508.69,505.00L507.74,508.00L506.83,511.00L505.97,514.00L505.16,517.00L504.41,520.00L503.71,523.00L503.07,526.00L502.48,529.00L501.94,532.00L501.46,535.00L501.03,538.00L500.64,541.00L500.30,544.00L500.00,547.00L499.74,550.00L499.51,553.00L498.30,553.00Z" fill="#95d4ea"/>
<path d="M550.00,375.00L553.50,375.00L554.13,378.08L554.84,381.17L555.63,384.25L556.49,387.33L557.44,390.42L558.46,393.50L559.55,396.58L560.70,399.67L561.91,402.75L563.15,405.83L564.41,408.92L565.68,412.00L566.94,415.08L568.17,418.17L569.34,421.25L570.44,424.33L571.44,427.42L572.33,430.50L573.09,433.58L573.69,436.67L574.13,439.75L574.41,442.83L574.50,445.92L574.44,449.00L574.24,452.08L573.92,455.17L573.48,458.25L572.92,461.33L572.25,464.42L571.49,467.50L570.64,470.58L569.72,473.67L568.74,476.75L567.71,479.83L566.65,482.92L565.57,486.00L564.48,489.08L563.39,492.17L562.32,495.25L561.27,498.33L560.26,501.42L559.29,504.50L558.36,507.58L557.49,510.67L556.67,513.75L555.91,516.83L555.21,519.92L554.56,523.00L553.98,526.08L553.45,529.17L552.97,532.25L552.55,535.33L552.18,538.42L551.85,541.50L551.56,544.58L551.31,547.67L551.09,550.75L550.91,553.83L550.75,556.92L550.62,560.00L550.00,560.00Z" fill="#1275b4"/>
<g fill="#d8232a"><circle cx="371.8" cy="412.9" r="1.1"/><circle cx="373.5" cy="422.1" r="1.1"/><circle cx="391.0" cy="420.9" r="1.1"/><circle cx="386.0" cy="429.6" r="1.1"/><circle cx="386.8" cy="431.6" r="1.1"/><circle cx="376.8" cy="433.8" r="1.1"/><circle cx="378.0" cy="437.8" r="1.1"/><circle cx="381.0" cy="439.6" r="1.1"/><circle cx="382.3" cy="441.3" r="1.1"/><circle cx="388.5" cy="440.1" r="1.1"/><circle cx="384.3" cy="445.8" r="1.1"/><circle cx="383.0" cy="447.8" r="1.1"/><circle cx="374.0" cy="445.8" r="1.1"/><circle cx="374.0" cy="449.0" r="1.1"/><circle cx="372.8" cy="454.5" r="1.1"/><circle cx="377.3" cy="452.8" r="1.1"/><circle cx="378.5" cy="457.0" r="1.1"/></g>
<g fill="#d8232a"><circle cx="371.5" cy="469.9" r="1.1"/><circle cx="376.5" cy="453.0" r="1.1"/><circle cx="372.3" cy="455.0" r="1.1"/><circle cx="378.0" cy="456.7" r="1.1"/><circle cx="384.0" cy="450.0" r="1.1"/><circle cx="393.5" cy="459.2" r="1.1"/><circle cx="391.0" cy="465.4" r="1.1"/><circle cx="382.3" cy="482.4" r="1.1"/><circle cx="380.3" cy="486.1" r="1.1"/><circle cx="373.5" cy="522.3" r="1.1"/><circle cx="372.3" cy="544.2" r="1.1"/></g>
<g fill="#fbb873"><circle cx="427.1" cy="422.6" r="1.1"/><circle cx="425.4" cy="425.9" r="1.1"/><circle cx="432.1" cy="429.6" r="1.1"/><circle cx="427.1" cy="433.8" r="1.1"/><circle cx="425.4" cy="437.1" r="1.1"/><circle cx="429.6" cy="437.8" r="1.1"/><circle cx="422.9" cy="441.6" r="1.1"/><circle cx="428.4" cy="443.3" r="1.1"/><circle cx="434.6" cy="443.3" r="1.1"/><circle cx="432.1" cy="447.1" r="1.1"/><circle cx="435.8" cy="439.6" r="1.1"/><circle cx="439.6" cy="440.3" r="1.1"/><circle cx="441.6" cy="445.8" r="1.1"/></g>
<g fill="#fbb873"><circle cx="422.1" cy="451.2" r="1.1"/><circle cx="441.3" cy="453.7" r="1.1"/><circle cx="427.9" cy="461.2" r="1.1"/><circle cx="435.3" cy="460.0" r="1.1"/><circle cx="429.6" cy="468.2" r="1.1"/><circle cx="427.1" cy="470.7" r="1.1"/><circle cx="438.3" cy="469.4" r="1.1"/><circle cx="423.9" cy="477.4" r="1.1"/><circle cx="435.3" cy="499.3" r="1.1"/><circle cx="446.3" cy="519.8" r="1.1"/></g>
<g fill="#a9dbe9"><circle cx="494.4" cy="413.4" r="1.1"/><circle cx="477.7" cy="420.4" r="1.1"/><circle cx="475.7" cy="426.4" r="1.1"/><circle cx="496.9" cy="422.1" r="1.1"/><circle cx="496.9" cy="426.4" r="1.1"/><circle cx="476.2" cy="430.4" r="1.1"/><circle cx="481.9" cy="431.4" r="1.1"/><circle cx="490.6" cy="432.9" r="1.1"/><circle cx="493.1" cy="435.3" r="1.1"/><circle cx="474.4" cy="438.8" r="1.1"/><circle cx="483.1" cy="438.8" r="1.1"/><circle cx="493.1" cy="443.3" r="1.1"/><circle cx="474.4" cy="445.3" r="1.1"/></g>
<g fill="#a9dbe9"><circle cx="488.6" cy="468.7" r="1.1"/><circle cx="491.9" cy="468.7" r="1.1"/><circle cx="481.9" cy="474.9" r="1.1"/><circle cx="486.9" cy="476.2" r="1.1"/><circle cx="487.4" cy="479.9" r="1.1"/><circle cx="490.6" cy="487.9" r="1.1"/><circle cx="497.6" cy="494.9" r="1.1"/><circle cx="477.7" cy="509.1" r="1.1"/><circle cx="480.2" cy="511.1" r="1.1"/></g>
<g fill="#2a78b0"><circle cx="535.5" cy="416.4" r="1.1"/><circle cx="538.7" cy="415.4" r="1.1"/><circle cx="545.4" cy="417.2" r="1.1"/><circle cx="526.3" cy="418.9" r="1.1"/><circle cx="526.3" cy="423.4" r="1.1"/><circle cx="531.7" cy="423.9" r="1.1"/><circle cx="531.2" cy="427.1" r="1.1"/><circle cx="529.2" cy="434.6" r="1.1"/><circle cx="537.5" cy="435.3" r="1.1"/><circle cx="531.7" cy="437.8" r="1.1"/><circle cx="537.5" cy="438.8" r="1.1"/><circle cx="541.7" cy="437.8" r="1.1"/><circle cx="533.0" cy="441.3" r="1.1"/><circle cx="538.0" cy="445.8" r="1.1"/><circle cx="543.7" cy="445.8" r="1.1"/><circle cx="543.7" cy="457.8" r="1.1"/></g>
<g fill="#2a78b0"><circle cx="544.2" cy="458.2" r="1.1"/><circle cx="541.0" cy="460.7" r="1.1"/><circle cx="535.5" cy="467.4" r="1.1"/><circle cx="538.0" cy="474.4" r="1.1"/><circle cx="547.9" cy="478.2" r="1.1"/><circle cx="528.5" cy="487.4" r="1.1"/><circle cx="538.5" cy="515.5" r="1.1"/><circle cx="529.7" cy="518.5" r="1.1"/></g>
<line x1="396.60" y1="412.00" x2="396.60" y2="433.00" stroke="#222" stroke-width="0.6"/>
<line x1="396.60" y1="457.00" x2="396.60" y2="485.00" stroke="#222" stroke-width="0.6"/>
<rect x="393.75" y="433.00" width="5.70" height="24.00" fill="#f81216" fill-opacity="0.5" stroke="#222" stroke-opacity="0.8" stroke-width="0.6"/>
<line x1="393.75" y1="447.00" x2="399.45" y2="447.00" stroke="#222" stroke-width="1"/>
<line x1="447.90" y1="423.00" x2="447.90" y2="436.80" stroke="#222" stroke-width="0.6"/>
<line x1="447.90" y1="463.80" x2="447.90" y2="499.00" stroke="#222" stroke-width="0.6"/>
<rect x="445.05" y="436.80" width="5.70" height="27.00" fill="#fdb872" fill-opacity="0.5" stroke="#222" stroke-opacity="0.8" stroke-width="0.6"/>
<line x1="445.05" y1="442.50" x2="450.75" y2="442.50" stroke="#222" stroke-width="1"/>
<line x1="498.60" y1="415.00" x2="498.60" y2="430.80" stroke="#222" stroke-width="0.6"/>
<line x1="498.60" y1="475.80" x2="498.60" y2="510.80" stroke="#222" stroke-width="0.6"/>
<rect x="495.75" y="430.80" width="5.70" height="45.00" fill="#a8dcee" fill-opacity="0.5" stroke="#222" stroke-opacity="0.8" stroke-width="0.6"/>
<line x1="495.75" y1="439.50" x2="501.45" y2="439.50" stroke="#222" stroke-width="1"/>
<line x1="549.90" y1="415.00" x2="549.90" y2="426.30" stroke="#222" stroke-width="0.6"/>
<line x1="549.90" y1="468.30" x2="549.90" y2="495.00" stroke="#222" stroke-width="0.6"/>
<rect x="547.05" y="426.30" width="5.70" height="42.00" fill="#2a86c2" fill-opacity="0.5" stroke="#222" stroke-opacity="0.8" stroke-width="0.6"/>
<line x1="547.05" y1="439.50" x2="552.75" y2="439.50" stroke="#222" stroke-width="1"/>
<text x="376.60" y="590.50" font-size="8.3" fill="#111" text-anchor="middle" font-weight="bold" textLength="51.80" lengthAdjust="spacingAndGlyphs">Health threat</text>
<text x="437.50" y="590.50" font-size="8.3" fill="#111" text-anchor="middle" font-weight="bold" textLength="48.50" lengthAdjust="spacingAndGlyphs">Social threat</text>
<text x="495.60" y="590.50" font-size="8.3" fill="#111" text-anchor="middle" font-weight="bold" textLength="51.80" lengthAdjust="spacingAndGlyphs">Health threat</text>
<text x="556.90" y="590.50" font-size="8.3" fill="#111" text-anchor="middle" font-weight="bold" textLength="48.50" lengthAdjust="spacingAndGlyphs">Social threat</text>
</g>
<defs>
<filter id="b1" x="-30%" y="-30%" width="160%" height="160%"><feGaussianBlur stdDeviation="1.1"/></filter>
<filter id="b2" x="-50%" y="-50%" width="200%" height="200%"><feGaussianBlur stdDeviation="2.2"/></filter>
<filter id="b4" x="-30%" y="-30%" width="160%" height="160%"><feGaussianBlur stdDeviation="1.5"/></filter>
<filter id="b3" x="-30%" y="-30%" width="160%" height="160%"><feGaussianBlur stdDeviation="0.9"/></filter>
</defs>
<defs><linearGradient id="pk" x1="0" y1="0" x2="0" y2="1"><stop offset="0" stop-color="#f4f3f3"/><stop offset="0.74" stop-color="#f1f0f0"/><stop offset="0.86" stop-color="#e7e7e7"/><stop offset="1" stop-color="#dddddd"/></linearGradient></defs>
<g id="bl">
<text x="26.00" y="342.50" font-size="26.5" fill="#000" text-anchor="middle" font-weight="bold" textLength="17.80" lengthAdjust="spacingAndGlyphs" stroke="#000" stroke-width="0.5">A</text>
<text x="88.00" y="349.00" font-size="8.4" fill="#e5222b" text-anchor="middle" font-weight="bold" textLength="33.00" lengthAdjust="spacingAndGlyphs" stroke="#e5222b" stroke-width="0.3">Smokers</text>
<line x1="57" y1="353" x2="136.3" y2="353" stroke="#e5222b" stroke-width="1.35"/>
<text x="230.00" y="349.50" font-size="8.4" fill="#4f9bd0" text-anchor="middle" font-weight="bold" textLength="51.00" lengthAdjust="spacingAndGlyphs" stroke="#4f9bd0" stroke-width="0.3">Non-smokers</text>
<line x1="186.3" y1="352.6" x2="268" y2="352.6" stroke="#6cb0da" stroke-width="1.35"/>
<rect x="27" y="355.2" width="266.6" height="112.3" fill="#000"/>
<text x="69.00" y="366.20" font-size="9.2" fill="#f4f4f4" text-anchor="middle" font-weight="bold" textLength="52.00" lengthAdjust="spacingAndGlyphs" stroke="#f4f4f4" stroke-width="0.25">Health threat</text>
<text x="130.00" y="366.20" font-size="9.2" fill="#f4f4f4" text-anchor="middle" font-weight="bold" textLength="48.80" lengthAdjust="spacingAndGlyphs" stroke="#f4f4f4" stroke-width="0.25">Social threat</text>
<text x="199.00" y="366.20" font-size="9.2" fill="#f4f4f4" text-anchor="middle" font-weight="bold" textLength="52.00" lengthAdjust="spacingAndGlyphs" stroke="#f4f4f4" stroke-width="0.25">Health threat</text>
<text x="260.00" y="366.20" font-size="9.2" fill="#f4f4f4" text-anchor="middle" font-weight="bold" textLength="48.80" lengthAdjust="spacingAndGlyphs" stroke="#f4f4f4" stroke-width="0.25">Social threat</text>
<rect x="37" y="416.3" width="56.2" height="44.0" fill="url(#pk)"/><rect x="37.4" y="371.7" width="55.400000000000006" height="43.6" fill="#0c0a0a" stroke="#8a847f" stroke-width="0.9"/><rect x="38.8" y="397.8" width="52.6" height="15.9" fill="#f6f5f6"/><clipPath id="cp1"><rect x="38.8" y="372.90000000000003" width="52.6" height="24.9"/></clipPath><g clip-path="url(#cp1)"><rect x="38.8" y="371.3" width="52.6" height="28" fill="#94758f"/><g filter="url(#b4)"><ellipse cx="43.8" cy="374.5" rx="10" ry="4.5" fill="#3a2e40"/><ellipse cx="86.4" cy="375.5" rx="9" ry="6" fill="#2a2230"/><ellipse cx="47.8" cy="387" rx="4.5" ry="3" fill="#456f72" transform="rotate(-35 47.8 387)"/><ellipse cx="43.8" cy="393" rx="6" ry="1.6" fill="#8f3f70" transform="rotate(-40 43.8 393)"/><ellipse cx="55.099999999999994" cy="385" rx="6" ry="10" fill="#bda4c2"/><ellipse cx="73.1" cy="392" rx="7" ry="7" fill="#c4a4b8"/><ellipse cx="80.4" cy="393.5" rx="6" ry="4" fill="#b47a66"/><ellipse cx="79.4" cy="383" rx="1.6" ry="7" fill="#8f4a70" transform="rotate(30 79.4 383)"/><path d="M40.3,382Q40.8,376 48.8,374.5" stroke="#d8d4dc" stroke-width="1.6" fill="none"/></g><rect x="86.80000000000001" y="381" width="3" height="17" rx="1.5" fill="#c4d8d2" filter="url(#b3)"/></g>
<g filter="url(#b2)" fill="#6b70b8"><ellipse cx="64.3" cy="407" rx="3.6" ry="8" opacity="0.22"/><ellipse cx="64.1" cy="404" rx="10" ry="6" opacity="0.10"/><ellipse cx="63.599999999999994" cy="423" rx="3.5" ry="7" opacity="0.20"/><ellipse cx="62.099999999999994" cy="436" rx="5" ry="4" opacity="0.11"/><ellipse cx="53.099999999999994" cy="431" rx="4" ry="3" opacity="0.09"/><ellipse cx="75.1" cy="428" rx="4" ry="3" opacity="0.08"/></g>
<text x="65.10" y="448.10" font-size="8.6" fill="#7c7c80" text-anchor="middle" font-weight="bold" textLength="36.30" lengthAdjust="spacingAndGlyphs" stroke="#7c7c80" stroke-width="0.2">TOBACCO</text>
<text x="65.10" y="439.30" font-size="2.8" fill="#c6c6cc" text-anchor="middle" textLength="23.00" lengthAdjust="spacingAndGlyphs">TO BE USED FOR</text>
<text x="65.10" y="454.60" font-size="3.4" fill="#f6f6f6" text-anchor="middle" font-weight="bold" textLength="43.00" lengthAdjust="spacingAndGlyphs">20 CLASS A CIGARETTES</text>
<rect x="101" y="416.3" width="56.2" height="44.0" fill="url(#pk)"/><rect x="101.4" y="371.7" width="55.400000000000006" height="43.6" fill="#0c0a0a" stroke="#8a847f" stroke-width="0.9"/><rect x="102.8" y="397.8" width="52.6" height="15.9" fill="#f6f5f6"/><clipPath id="cp2"><rect x="102.8" y="372.90000000000003" width="52.6" height="24.9"/></clipPath><g clip-path="url(#cp2)"><rect x="102.8" y="371.3" width="52.6" height="28" fill="#0c0e1a"/><g filter="url(#b1)"><ellipse cx="109.3" cy="379" rx="3.4" ry="6.5" fill="#96706a" transform="rotate(-28 109.3 379)"/><ellipse cx="149.4" cy="378.5" rx="4.8" ry="3.8" fill="#9c7264" transform="rotate(-30 149.4 378.5)"/><ellipse cx="116.8" cy="387.5" rx="5.5" ry="1.1" fill="#5c5f78" transform="rotate(28 116.8 387.5)"/><ellipse cx="141.4" cy="387" rx="5.5" ry="1.1" fill="#5c5f78" transform="rotate(-32 141.4 387)"/><ellipse cx="131.1" cy="392" rx="14" ry="5" fill="#1a2042"/></g></g>
<g filter="url(#b2)" fill="#6b70b8"><ellipse cx="128.29999999999998" cy="407" rx="3.6" ry="8" opacity="0.32"/><ellipse cx="128.1" cy="404" rx="10" ry="6" opacity="0.14"/><ellipse cx="127.6" cy="423" rx="3.5" ry="7" opacity="0.29"/><ellipse cx="126.1" cy="436" rx="5" ry="4" opacity="0.16"/><ellipse cx="117.1" cy="431" rx="4" ry="3" opacity="0.13"/><ellipse cx="139.1" cy="428" rx="4" ry="3" opacity="0.11"/></g>
<ellipse cx="129.29999999999998" cy="411.6" rx="2.6" ry="2.8" fill="#4a509c" opacity="0.6" filter="url(#b1)"/>
<text x="129.10" y="448.10" font-size="8.6" fill="#7c7c80" text-anchor="middle" font-weight="bold" textLength="36.30" lengthAdjust="spacingAndGlyphs" stroke="#7c7c80" stroke-width="0.2">TOBACCO</text>
<text x="129.10" y="439.30" font-size="2.8" fill="#c6c6cc" text-anchor="middle" textLength="23.00" lengthAdjust="spacingAndGlyphs">TO BE USED FOR</text>
<text x="129.10" y="454.60" font-size="3.4" fill="#f6f6f6" text-anchor="middle" font-weight="bold" textLength="43.00" lengthAdjust="spacingAndGlyphs">20 CLASS A CIGARETTES</text>
<rect x="166.2" y="416.3" width="56.2" height="44.0" fill="url(#pk)"/><rect x="166.6" y="371.7" width="55.400000000000006" height="43.6" fill="#0c0a0a" stroke="#8a847f" stroke-width="0.9"/><rect x="168.0" y="397.8" width="52.6" height="15.9" fill="#f6f5f6"/><clipPath id="cp3"><rect x="168.0" y="372.90000000000003" width="52.6" height="24.9"/></clipPath><g clip-path="url(#cp3)"><rect x="168.0" y="371.3" width="52.6" height="28" fill="#94758f"/><g filter="url(#b4)"><ellipse cx="173.0" cy="374.5" rx="10" ry="4.5" fill="#3a2e40"/><ellipse cx="215.6" cy="375.5" rx="9" ry="6" fill="#2a2230"/><ellipse cx="177.0" cy="387" rx="4.5" ry="3" fill="#456f72" transform="rotate(-35 177.0 387)"/><ellipse cx="173.0" cy="393" rx="6" ry="1.6" fill="#8f3f70" transform="rotate(-40 173.0 393)"/><ellipse cx="184.29999999999998" cy="385" rx="6" ry="10" fill="#bda4c2"/><ellipse cx="202.29999999999998" cy="392" rx="7" ry="7" fill="#c4a4b8"/><ellipse cx="209.6" cy="393.5" rx="6" ry="4" fill="#b47a66"/><ellipse cx="208.6" cy="383" rx="1.6" ry="7" fill="#8f4a70" transform="rotate(30 208.6 383)"/><path d="M169.5,382Q170.0,376 178.0,374.5" stroke="#d8d4dc" stroke-width="1.6" fill="none"/></g><rect x="216.0" y="381" width="3" height="17" rx="1.5" fill="#c4d8d2" filter="url(#b3)"/></g>
<g filter="url(#b2)" fill="#6b70b8"><ellipse cx="193.49999999999997" cy="407" rx="3.6" ry="8" opacity="0.2"/><ellipse cx="193.29999999999998" cy="404" rx="10" ry="6" opacity="0.09"/><ellipse cx="192.79999999999998" cy="423" rx="3.5" ry="7" opacity="0.18"/><ellipse cx="191.29999999999998" cy="436" rx="5" ry="4" opacity="0.10"/><ellipse cx="182.29999999999998" cy="431" rx="4" ry="3" opacity="0.08"/><ellipse cx="204.29999999999998" cy="428" rx="4" ry="3" opacity="0.07"/></g>
<text x="194.30" y="448.10" font-size="8.6" fill="#7c7c80" text-anchor="middle" font-weight="bold" textLength="36.30" lengthAdjust="spacingAndGlyphs" stroke="#7c7c80" stroke-width="0.2">TOBACCO</text>
<text x="194.30" y="439.30" font-size="2.8" fill="#c6c6cc" text-anchor="middle" textLength="23.00" lengthAdjust="spacingAndGlyphs">TO BE USED FOR</text>
<text x="194.30" y="454.60" font-size="3.4" fill="#f6f6f6" text-anchor="middle" font-weight="bold" textLength="43.00" lengthAdjust="spacingAndGlyphs">20 CLASS A CIGARETTES</text>
<rect x="231.3" y="416.3" width="56.2" height="44.0" fill="url(#pk)"/><rect x="231.70000000000002" y="371.7" width="55.400000000000006" height="43.6" fill="#0c0a0a" stroke="#8a847f" stroke-width="0.9"/><rect x="233.10000000000002" y="397.8" width="52.6" height="15.9" fill="#f6f5f6"/><clipPath id="cp4"><rect x="233.10000000000002" y="372.90000000000003" width="52.6" height="24.9"/></clipPath><g clip-path="url(#cp4)"><rect x="233.10000000000002" y="371.3" width="52.6" height="28" fill="#0c0e1a"/><g filter="url(#b1)"><ellipse cx="239.60000000000002" cy="379" rx="3.4" ry="6.5" fill="#96706a" transform="rotate(-28 239.60000000000002 379)"/><ellipse cx="279.70000000000005" cy="378.5" rx="4.8" ry="3.8" fill="#9c7264" transform="rotate(-30 279.70000000000005 378.5)"/><ellipse cx="247.10000000000002" cy="387.5" rx="5.5" ry="1.1" fill="#5c5f78" transform="rotate(28 247.10000000000002 387.5)"/><ellipse cx="271.70000000000005" cy="387" rx="5.5" ry="1.1" fill="#5c5f78" transform="rotate(-32 271.70000000000005 387)"/><ellipse cx="261.40000000000003" cy="392" rx="14" ry="5" fill="#1a2042"/></g></g>
<g filter="url(#b2)" fill="#6b70b8"><ellipse cx="258.6" cy="407" rx="3.6" ry="8" opacity="0.42"/><ellipse cx="258.40000000000003" cy="404" rx="10" ry="6" opacity="0.19"/><ellipse cx="257.90000000000003" cy="423" rx="3.5" ry="7" opacity="0.38"/><ellipse cx="256.40000000000003" cy="436" rx="5" ry="4" opacity="0.21"/><ellipse cx="247.40000000000003" cy="431" rx="4" ry="3" opacity="0.17"/><ellipse cx="269.40000000000003" cy="428" rx="4" ry="3" opacity="0.15"/></g>
<ellipse cx="259.6" cy="411.6" rx="2.6" ry="2.8" fill="#4a509c" opacity="0.15" filter="url(#b1)"/>
<text x="259.40" y="448.10" font-size="8.6" fill="#7c7c80" text-anchor="middle" font-weight="bold" textLength="36.30" lengthAdjust="spacingAndGlyphs" stroke="#7c7c80" stroke-width="0.2">TOBACCO</text>
<text x="259.40" y="439.30" font-size="2.8" fill="#c6c6cc" text-anchor="middle" textLength="23.00" lengthAdjust="spacingAndGlyphs">TO BE USED FOR</text>
<text x="259.40" y="454.60" font-size="3.4" fill="#f6f6f6" text-anchor="middle" font-weight="bold" textLength="43.00" lengthAdjust="spacingAndGlyphs">20 CLASS A CIGARETTES</text>
<g filter="url(#b3)"><ellipse cx="66.5" cy="383.9" rx="7.66" ry="9.98" fill="#2a6a3a" opacity="0.45"/><ellipse cx="66.5" cy="383.9" rx="6.60" ry="8.60" fill="#1a7c24" opacity="0.92"/><ellipse cx="66.5" cy="383.9" rx="4.75" ry="6.19" fill="#2c9a24" opacity="1"/><ellipse cx="66.5" cy="383.9" rx="3.17" ry="4.13" fill="#86bc1e" opacity="1"/><ellipse cx="66.5" cy="383.9" rx="1.98" ry="2.58" fill="#d4c814" opacity="1"/></g>
<g filter="url(#b3)"><ellipse cx="126.8" cy="383.8" rx="6.84" ry="11.33" fill="#1a5a34" opacity="0.5"/><ellipse cx="126.8" cy="383.8" rx="5.80" ry="9.60" fill="#1c8a2c" opacity="0.92"/><ellipse cx="126.8" cy="383.8" rx="4.29" ry="7.10" fill="#4cb52a" opacity="1"/><ellipse cx="126.8" cy="383.8" rx="3.02" ry="4.99" fill="#d0d81e" opacity="1"/><ellipse cx="126.8" cy="383.8" rx="1.74" ry="2.88" fill="#f0a81a" opacity="1"/></g>
<g filter="url(#b3)"><ellipse cx="193.6" cy="385.2" rx="9.44" ry="8.02" fill="#2f6f4a" opacity="0.45"/><ellipse cx="193.6" cy="385.2" rx="8.00" ry="6.80" fill="#1c8a2c" opacity="0.9"/><ellipse cx="193.6" cy="385.2" rx="4.80" ry="4.08" fill="#3cae2a" opacity="1"/><ellipse cx="193.6" cy="385.2" rx="2.40" ry="2.04" fill="#a8c81e" opacity="1"/></g>
<g filter="url(#b3)"><ellipse cx="177.2" cy="387" rx="3.38" ry="3.38" fill="#2f7f4a" opacity="0.4"/><ellipse cx="177.2" cy="387" rx="2.60" ry="2.60" fill="#2a9040" opacity="0.85"/></g>
<g filter="url(#b3)"><ellipse cx="256.9" cy="384.8" rx="8.50" ry="9.68" fill="#1a5a34" opacity="0.5"/><ellipse cx="256.9" cy="384.8" rx="7.20" ry="8.20" fill="#1c8a2c" opacity="0.92"/><ellipse cx="256.9" cy="384.8" rx="5.47" ry="6.23" fill="#62bc2a" opacity="1"/><ellipse cx="256.9" cy="384.8" rx="4.18" ry="4.76" fill="#e2da1e" opacity="1"/><ellipse cx="256.9" cy="384.8" rx="2.74" ry="3.12" fill="#f08a1a" opacity="1"/><ellipse cx="256.9" cy="384.8" rx="1.44" ry="1.64" fill="#e8401a" opacity="1"/></g>
<rect x="166.45" y="372.5" width="55.5" height="25.6" fill="none" stroke="#dc8848" stroke-width="1.5"/>
<rect x="166.45" y="399.5" width="55.5" height="60" fill="none" stroke="#e23424" stroke-width="1.5"/>
<rect x="168.3" y="400.8" width="52.2" height="13.8" fill="none" stroke="#3a3030" stroke-width="0.9"/>
<text x="214.50" y="371.00" font-size="4.3" fill="#e08a45" text-anchor="middle" font-weight="bold" textLength="15.00" lengthAdjust="spacingAndGlyphs">AOI A</text>
<text x="215.90" y="465.50" font-size="4.3" fill="#e8281e" text-anchor="middle" font-weight="bold" textLength="14.00" lengthAdjust="spacingAndGlyphs">AOI B</text>
<defs><linearGradient id="cs" gradientUnits="userSpaceOnUse" x1="31.8" y1="0" x2="140.8" y2="0"><stop offset="0" stop-color="#0404d8"/><stop offset="0.1" stop-color="#0420c0"/><stop offset="0.2" stop-color="#044094"/><stop offset="0.3" stop-color="#046458"/><stop offset="0.4" stop-color="#067c24"/><stop offset="0.5" stop-color="#1c9a24"/><stop offset="0.57" stop-color="#70c024"/><stop offset="0.64" stop-color="#d0e020"/><stop offset="0.72" stop-color="#fcd81e"/><stop offset="0.82" stop-color="#fea818"/><stop offset="0.91" stop-color="#fe7812"/><stop offset="1" stop-color="#f03a18"/></linearGradient></defs>
<rect x="31.8" y="470.6" width="9" height="3.8" fill="url(#cs)"/>
<rect x="43" y="470.6" width="9" height="3.8" fill="url(#cs)"/>
<rect x="54.2" y="470.6" width="9" height="3.8" fill="url(#cs)"/>
<rect x="65" y="470.6" width="9" height="3.8" fill="url(#cs)"/>
<rect x="76.2" y="470.6" width="9" height="3.8" fill="url(#cs)"/>
<rect x="87.5" y="470.6" width="9" height="3.8" fill="url(#cs)"/>
<rect x="98.7" y="470.6" width="9" height="3.8" fill="url(#cs)"/>
<rect x="109.5" y="470.6" width="9" height="3.8" fill="url(#cs)"/>
<rect x="120.7" y="470.6" width="9" height="3.8" fill="url(#cs)"/>
<rect x="131.8" y="470.6" width="9" height="3.8" fill="url(#cs)"/>
<text x="88.80" y="479.20" font-size="3.4" fill="#111" text-anchor="middle" font-weight="bold" textLength="13.50" lengthAdjust="spacingAndGlyphs">500 ms</text>
<text x="145.00" y="479.20" font-size="3.4" fill="#111" text-anchor="middle" font-weight="bold" textLength="16.50" lengthAdjust="spacingAndGlyphs">1000 ms</text>
<path d="M193.3,462.5H198.8V482.3H201.9L196,490.2L190.1,482.3H193.3Z" fill="#f4ac0c" stroke="#c8860a" stroke-width="0.7" stroke-linejoin="round"/>
<rect x="260.8" y="474.5" width="8.9" height="7" fill="#f0141e"/>
<rect x="260.8" y="484.5" width="8.9" height="7" fill="#f68a3c"/>
<text x="271.70" y="479.60" font-size="4" fill="#111" text-anchor="start" font-weight="bold" textLength="12.00" lengthAdjust="spacingAndGlyphs">AOI B</text>
<text x="271.70" y="489.40" font-size="4" fill="#111" text-anchor="start" font-weight="bold" textLength="12.00" lengthAdjust="spacingAndGlyphs">AOI A</text>
<rect x="106.1" y="496.0" width="182.2" height="93.0" fill="#fff" stroke="#cfcfcf" stroke-width="0.5"/>
<path d="M109.35,496.0V589.0M112.61,496.0V589.0M115.86,496.0V589.0M119.11,496.0V589.0M122.37,496.0V589.0M125.62,496.0V589.0M128.88,496.0V589.0M132.13,496.0V589.0M135.38,496.0V589.0M138.64,496.0V589.0M141.89,496.0V589.0M145.14,496.0V589.0M148.40,496.0V589.0M151.65,496.0V589.0M154.90,496.0V589.0M158.16,496.0V589.0M161.41,496.0V589.0M164.66,496.0V589.0M167.92,496.0V589.0M171.17,496.0V589.0M174.43,496.0V589.0M177.68,496.0V589.0M180.93,496.0V589.0M184.19,496.0V589.0M187.44,496.0V589.0M190.69,496.0V589.0M193.95,496.0V589.0M197.20,496.0V589.0M200.45,496.0V589.0M203.71,496.0V589.0M206.96,496.0V589.0M210.21,496.0V589.0M213.47,496.0V589.0M216.72,496.0V589.0M219.98,496.0V589.0M223.23,496.0V589.0M226.48,496.0V589.0M229.74,496.0V589.0M232.99,496.0V589.0M236.24,496.0V589.0M239.50,496.0V589.0M242.75,496.0V589.0M246.00,496.0V589.0M249.26,496.0V589.0M252.51,496.0V589.0M255.76,496.0V589.0M259.02,496.0V589.0M262.27,496.0V589.0M265.52,496.0V589.0M268.78,496.0V589.0M272.03,496.0V589.0M275.29,496.0V589.0M278.54,496.0V589.0M281.79,496.0V589.0M285.05,496.0V589.0" stroke="#eeeeee" stroke-width="0.4" fill="none"/>
<g fill="#f4874c"><rect x="117.41" y="496.85" width="21.56" height="2.7"/><rect x="140.79" y="496.85" width="49.33" height="2.7"/><rect x="190.00" y="496.85" width="0.91" height="2.7"/><rect x="194.57" y="496.85" width="72.17" height="2.7"/><rect x="270.39" y="496.85" width="17.91" height="2.7"/><rect x="137.87" y="501.49" width="8.77" height="2.7"/><rect x="151.21" y="501.49" width="38.92" height="2.7"/><rect x="190.00" y="501.49" width="3.65" height="2.7"/><rect x="199.14" y="501.49" width="4.57" height="2.7"/><rect x="232.02" y="501.49" width="4.57" height="2.7"/><rect x="241.16" y="501.49" width="16.44" height="2.7"/><rect x="264.91" y="501.49" width="2.74" height="2.7"/><rect x="275.88" y="501.49" width="9.14" height="2.7"/><rect x="117.41" y="506.13" width="21.01" height="2.7"/><rect x="145.73" y="506.13" width="44.40" height="2.7"/><rect x="190.00" y="506.13" width="9.14" height="2.7"/><rect x="221.98" y="506.13" width="66.33" height="2.7"/><rect x="117.41" y="510.78" width="72.72" height="2.7"/><rect x="190.00" y="510.78" width="23.75" height="2.7"/><rect x="220.15" y="510.78" width="9.14" height="2.7"/><rect x="270.39" y="510.78" width="17.91" height="2.7"/><rect x="112.84" y="515.42" width="15.53" height="2.7"/><rect x="145.73" y="515.42" width="28.32" height="2.7"/><rect x="189.58" y="515.42" width="0.55" height="2.7"/><rect x="190.00" y="515.42" width="4.57" height="2.7"/><rect x="196.40" y="515.42" width="34.72" height="2.7"/><rect x="235.68" y="515.42" width="6.40" height="2.7"/><rect x="255.41" y="515.42" width="3.11" height="2.7"/><rect x="274.96" y="515.42" width="13.34" height="2.7"/><rect x="119.60" y="520.06" width="70.53" height="2.7"/><rect x="190.00" y="520.06" width="98.30" height="2.7"/><rect x="118.32" y="524.70" width="71.81" height="2.7"/><rect x="190.00" y="524.70" width="98.30" height="2.7"/><rect x="127.46" y="529.34" width="51.16" height="2.7"/><rect x="183.18" y="529.34" width="6.94" height="2.7"/><rect x="190.00" y="529.34" width="2.74" height="2.7"/><rect x="194.57" y="529.34" width="23.75" height="2.7"/><rect x="221.06" y="529.34" width="4.57" height="2.7"/><rect x="232.94" y="529.34" width="30.15" height="2.7"/><rect x="119.23" y="533.99" width="29.23" height="2.7"/><rect x="156.69" y="533.99" width="11.88" height="2.7"/><rect x="175.88" y="533.99" width="14.25" height="2.7"/><rect x="190.00" y="533.99" width="53.90" height="2.7"/><rect x="251.21" y="533.99" width="8.22" height="2.7"/><rect x="268.57" y="533.99" width="9.14" height="2.7"/><rect x="106.08" y="538.63" width="29.60" height="2.7"/><rect x="168.57" y="538.63" width="5.48" height="2.7"/><rect x="178.62" y="538.63" width="11.51" height="2.7"/><rect x="190.00" y="538.63" width="1.83" height="2.7"/><rect x="196.94" y="538.63" width="3.11" height="2.7"/><rect x="232.94" y="538.63" width="4.57" height="2.7"/><rect x="242.07" y="538.63" width="10.96" height="2.7"/><rect x="122.89" y="543.27" width="67.24" height="2.7"/><rect x="190.00" y="543.27" width="2.74" height="2.7"/><rect x="112.84" y="547.91" width="47.51" height="2.7"/><rect x="164.00" y="547.91" width="26.13" height="2.7"/><rect x="206.44" y="547.91" width="81.86" height="2.7"/><rect x="115.21" y="552.55" width="64.32" height="2.7"/><rect x="182.27" y="552.55" width="7.86" height="2.7"/><rect x="190.00" y="552.55" width="10.05" height="2.7"/><rect x="201.88" y="552.55" width="16.44" height="2.7"/><rect x="235.68" y="552.55" width="42.02" height="2.7"/><rect x="280.44" y="552.55" width="5.48" height="2.7"/><rect x="131.11" y="557.20" width="41.11" height="2.7"/><rect x="207.36" y="557.20" width="5.48" height="2.7"/><rect x="224.72" y="557.20" width="63.58" height="2.7"/><rect x="115.58" y="561.84" width="55.73" height="2.7"/><rect x="178.62" y="561.84" width="11.51" height="2.7"/><rect x="190.00" y="561.84" width="12.79" height="2.7"/><rect x="206.44" y="561.84" width="36.54" height="2.7"/><rect x="260.35" y="561.84" width="27.96" height="2.7"/><rect x="106.08" y="566.48" width="50.61" height="2.7"/><rect x="181.36" y="566.48" width="8.77" height="2.7"/><rect x="190.00" y="566.48" width="3.65" height="2.7"/><rect x="217.41" y="566.48" width="70.89" height="2.7"/><rect x="111.56" y="571.12" width="52.44" height="2.7"/><rect x="179.53" y="571.12" width="10.60" height="2.7"/><rect x="190.00" y="571.12" width="64.86" height="2.7"/><rect x="268.57" y="571.12" width="6.40" height="2.7"/><rect x="281.36" y="571.12" width="6.94" height="2.7"/><rect x="126.54" y="575.76" width="63.58" height="2.7"/><rect x="190.00" y="575.76" width="57.56" height="2.7"/><rect x="252.12" y="575.76" width="3.65" height="2.7"/><rect x="115.58" y="580.41" width="74.55" height="2.7"/><rect x="190.00" y="580.41" width="98.30" height="2.7"/><rect x="114.12" y="585.05" width="11.51" height="2.7"/></g><g fill="#e21a50"><rect x="112.29" y="496.85" width="4.57" height="2.7"/><rect x="128.74" y="501.49" width="3.29" height="2.7"/><rect x="258.52" y="501.49" width="1.83" height="2.7"/><rect x="106.08" y="506.13" width="11.33" height="2.7"/><rect x="200.60" y="506.13" width="20.83" height="2.7"/><rect x="106.08" y="510.78" width="10.96" height="2.7"/><rect x="229.83" y="510.78" width="38.37" height="2.7"/><rect x="106.08" y="515.42" width="6.76" height="2.7"/><rect x="106.08" y="520.06" width="13.52" height="2.7"/><rect x="106.08" y="524.70" width="9.50" height="2.7"/><rect x="106.08" y="529.34" width="21.38" height="2.7"/><rect x="264.55" y="529.34" width="20.46" height="2.7"/><rect x="106.08" y="533.99" width="12.24" height="2.7"/><rect x="259.07" y="538.63" width="18.27" height="2.7"/><rect x="284.10" y="538.63" width="2.74" height="2.7"/><rect x="106.08" y="543.27" width="15.90" height="2.7"/><rect x="201.88" y="543.27" width="18.27" height="2.7"/><rect x="223.44" y="543.27" width="11.33" height="2.7"/><rect x="237.14" y="543.27" width="51.16" height="2.7"/><rect x="106.08" y="547.91" width="6.21" height="2.7"/><rect x="192.74" y="547.91" width="13.70" height="2.7"/><rect x="106.08" y="557.20" width="25.03" height="2.7"/><rect x="172.22" y="557.20" width="17.91" height="2.7"/><rect x="190.00" y="557.20" width="5.48" height="2.7"/><rect x="198.22" y="557.20" width="9.14" height="2.7"/><rect x="218.87" y="557.20" width="2.56" height="2.7"/><rect x="108.27" y="561.84" width="7.31" height="2.7"/><rect x="243.35" y="561.84" width="11.51" height="2.7"/><rect x="194.02" y="566.48" width="4.75" height="2.7"/><rect x="200.60" y="566.48" width="9.87" height="2.7"/><rect x="106.08" y="571.12" width="5.48" height="2.7"/><rect x="106.08" y="575.76" width="20.46" height="2.7"/><rect x="255.78" y="575.76" width="20.10" height="2.7"/><rect x="279.53" y="575.76" width="8.77" height="2.7"/><rect x="106.08" y="580.41" width="9.50" height="2.7"/><rect x="106.08" y="585.05" width="8.04" height="2.7"/></g>
<text x="102.30" y="545.00" font-size="7.2" fill="#222" text-anchor="middle" font-weight="bold" textLength="71.00" lengthAdjust="spacingAndGlyphs" transform="rotate(-90 102.30 545.00)">Subjects (non-smokers)</text>
<text x="194.00" y="595.30" font-size="3.4" fill="#111" text-anchor="middle" font-weight="bold" textLength="16.00" lengthAdjust="spacingAndGlyphs">2000 ms</text>
<text x="284.70" y="595.30" font-size="3.4" fill="#111" text-anchor="middle" font-weight="bold" textLength="16.00" lengthAdjust="spacingAndGlyphs">4000 ms</text>
</g>
</svg>
</body></html>
